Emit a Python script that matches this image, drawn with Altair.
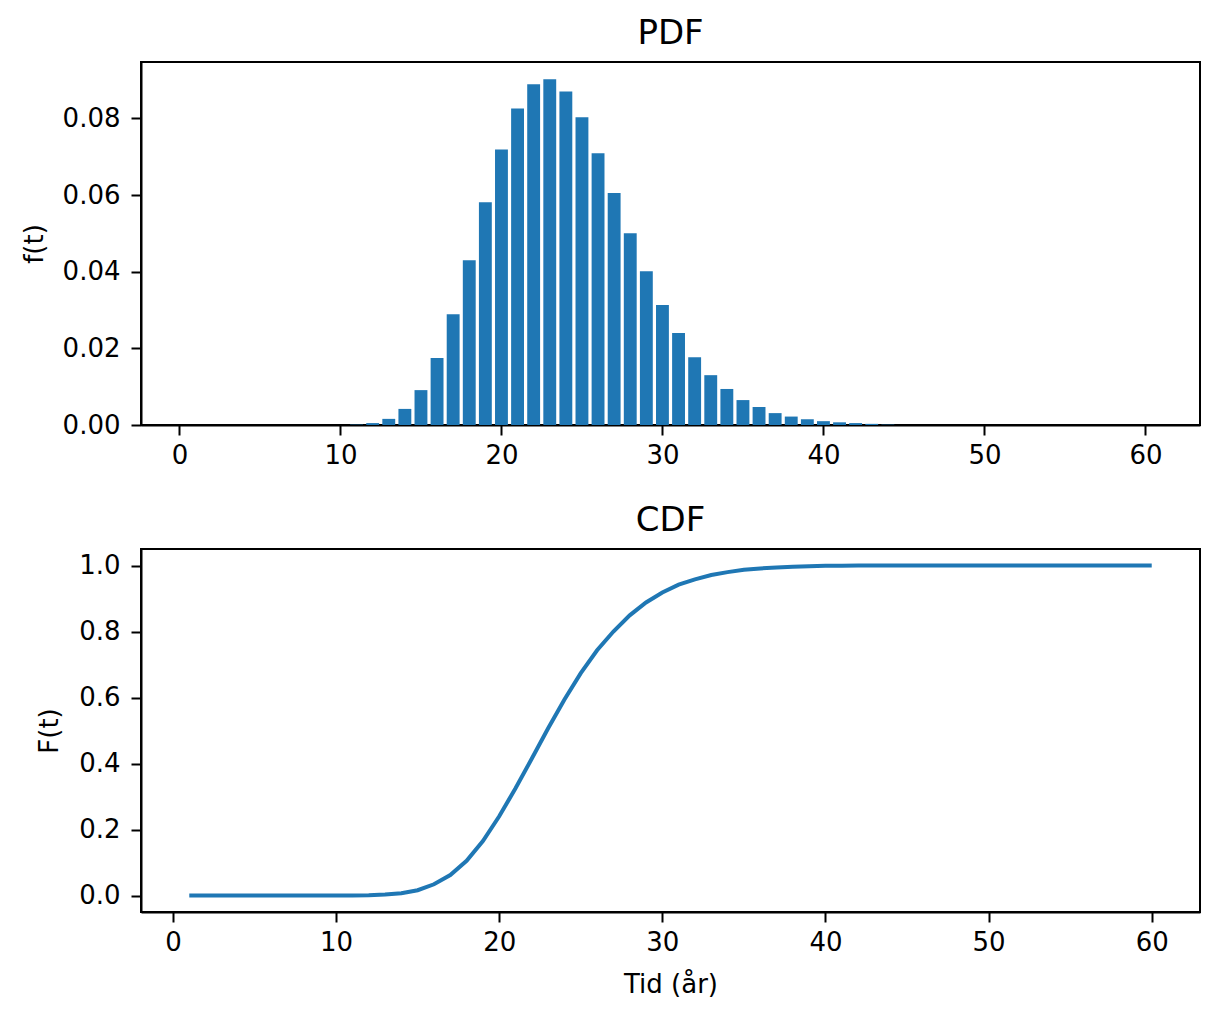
import pandas as pd
import altair as alt

# time steps (years)
t_vals = list(range(1, 61))

# PDF bar heights, t = 1..60
pdf_vals = [0, 0, 0, 0, 0, 0, 0, 0, 0, 0,
            0.0001, 0.0005, 0.0016, 0.0042, 0.0091, 0.0175, 0.0289, 0.0430, 0.0581, 0.0719,
            0.0826, 0.0889, 0.0902, 0.0870, 0.0803, 0.0709, 0.0605, 0.0500, 0.0401, 0.0313,
            0.0240, 0.0177, 0.0130, 0.0094, 0.0065, 0.0047, 0.0031, 0.0022, 0.0015, 0.0010,
            0.0007, 0.0005, 0.0003, 0.0001, 0, 0, 0, 0, 0, 0,
            0, 0, 0, 0, 0, 0, 0, 0, 0, 0]

# CDF line, t = 1..60
cdf_vals = [0, 0, 0, 0, 0, 0, 0, 0, 0, 0,
            0.0001, 0.001, 0.003, 0.007, 0.016, 0.034, 0.062, 0.105, 0.165, 0.240,
            0.325, 0.415, 0.507, 0.594, 0.674, 0.743, 0.800, 0.849, 0.888, 0.918,
            0.942, 0.958, 0.971, 0.980, 0.987, 0.991, 0.994, 0.996, 0.998, 0.999,
            0.9995, 1.0, 1.0, 1.0, 1.0, 1.0, 1.0, 1.0, 1.0, 1.0,
            1.0, 1.0, 1.0, 1.0, 1.0, 1.0, 1.0, 1.0, 1.0, 1.0]

x_ticks = [0, 10, 20, 30, 40, 50, 60]
pdf_ticks = [0, 0.02, 0.04, 0.06, 0.08]
cdf_ticks = [0, 0.2, 0.4, 0.6, 0.8, 1.0]

df = pd.DataFrame({"t": t_vals, "pdf": pdf_vals, "cdf": cdf_vals})

BLUE = "#1f77b4"
FONT = "DejaVu Sans"

def axis(values, fmt, label_pad, title_pad=12):
    return alt.Axis(values=values, format=fmt, grid=False, tickSize=10, tickWidth=2,
                    tickColor="black", domainColor="black", domainWidth=2,
                    labelPadding=label_pad, labelFontSize=26, labelColor="black",
                    titleFontSize=26, titleFontWeight="normal", titleColor="black",
                    titlePadding=title_pad, labelFont=FONT, titleFont=FONT)

def title(text):
    return alt.TitleParams(text, fontSize=34, fontWeight="normal", font=FONT,
                           color="black", anchor="middle", frame="group", offset=11)

pdf_chart = alt.Chart(df, title=title("PDF")).mark_bar(color=BLUE).transform_calculate(
    x0="datum.t - 0.4", x1="datum.t + 0.4"
).encode(
    x=alt.X("x0:Q", scale=alt.Scale(domain=[-2.39, 63.39], nice=False, zero=False),
            axis=axis(x_ticks, "d", 7), title=None),
    x2="x1:Q",
    y=alt.Y("pdf:Q", scale=alt.Scale(domain=[0, 0.0947], nice=False),
            axis=axis(pdf_ticks, ".2f", 11, 15), title="f(t)"),
    y2=alt.datum(0),
).properties(width=1059, height=363)

cdf_chart = alt.Chart(df, title=title("CDF")).mark_line(color=BLUE, strokeWidth=4).encode(
    x=alt.X("t:Q", scale=alt.Scale(domain=[-1.96, 62.96], nice=False, zero=False),
            axis=axis(x_ticks, "d", 7, 16), title="Tid (år)"),
    y=alt.Y("cdf:Q", scale=alt.Scale(domain=[-0.05, 1.05], nice=False, zero=False),
            axis=axis(cdf_ticks, ".1f", 11, 16), title="F(t)"),
).properties(width=1059, height=363)

chart = alt.vconcat(pdf_chart, cdf_chart, spacing=34).properties(
    padding={"left": 12, "top": 8, "right": 5, "bottom": 5}
).configure_view(stroke="black", strokeWidth=2)

chart.save("out.html", embed_options={"renderer": "svg", "actions": False})
